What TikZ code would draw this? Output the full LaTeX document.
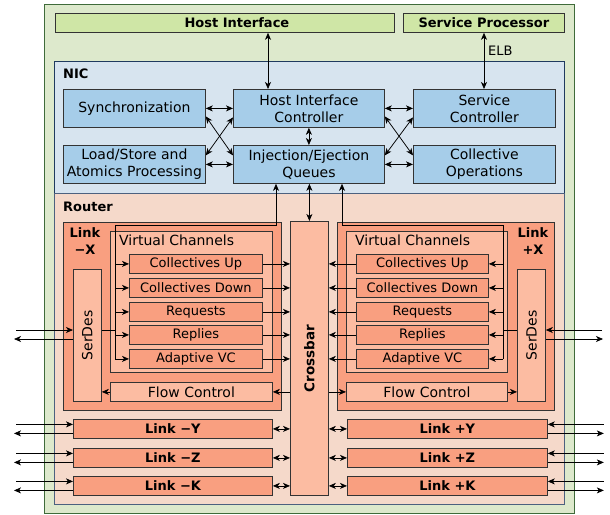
\documentclass[tikz,border=0pt]{standalone}
\usepackage{fontspec}
\setmainfont{DejaVu Sans}
\usetikzlibrary{arrows.meta,calc}
\definecolor{outerfill}{HTML}{DDE9CC}
\definecolor{outerline}{HTML}{3F6B3A}
\definecolor{hostfill}{HTML}{CFE6A6}
\definecolor{nicfill}{HTML}{D7E4EF}
\definecolor{nicline}{HTML}{1F3A5F}
\definecolor{nicbox}{HTML}{A6CDE9}
\definecolor{routerfill}{HTML}{F5D9CA}
\definecolor{salmon}{HTML}{F99F80}
\definecolor{litesalmon}{HTML}{FCBCA2}
\definecolor{boxline}{HTML}{333333}
\begin{document}
\begin{tikzpicture}[x=1pt,y=-1pt,
  box/.style={draw=boxline,line width=0.8pt,inner sep=0pt,anchor=north west,align=center,font=\fontsize{14}{17}\selectfont},
  nicb/.style={box,fill=nicbox},
  linkb/.style={box,fill=salmon},
  liteb/.style={box,fill=litesalmon},
  vcitem/.style={linkb,font=\fontsize{13}{15}\selectfont,minimum height=19pt},
  dirlink/.style={linkb,font=\fontsize{13}{15}\selectfont\bfseries,minimum height=19pt},
  lbl/.style={inner sep=0pt,font=\fontsize{13}{15}\selectfont\bfseries},
  tip/.tip={Stealth[length=7pt,width=6pt,inset=2pt]},
  arr/.style={-tip,line width=0.75pt,black},
  dbl/.style={tip-tip,line width=0.75pt,black},
  ln/.style={line width=0.75pt,black}]
\useasboundingbox (0,0) rectangle (610,514);
% frames
\node[draw=outerline,fill=outerfill,line width=0.8pt,anchor=north west,minimum width=530pt,minimum height=509pt,inner sep=0pt] (outer) at (44,4) {};
\node[box,fill=hostfill,minimum width=339pt,minimum height=19pt,font=\fontsize{13}{15}\selectfont\bfseries] (hostif) at (55,13) {\hspace*{24pt}Host Interface};
\node[box,fill=hostfill,minimum width=161pt,minimum height=19pt,font=\fontsize{13}{15}\selectfont\bfseries] (servproc) at (403,13) {Service Processor};
\node[draw=nicline,fill=nicfill,line width=0.8pt,anchor=north west,minimum width=510pt,minimum height=132pt,inner sep=0pt] (nic) at (54,61) {};
\node[draw=nicline!80,fill=routerfill,line width=0.8pt,anchor=north west,minimum width=510pt,minimum height=311pt,inner sep=0pt] (router) at (54,193) {};
\node[lbl,anchor=west] (niclbl) at (63,74) {NIC};
\node[lbl,anchor=west] (routerlbl) at (63,207) {Router};
% NIC boxes
\node[nicb,minimum width=142pt,minimum height=38pt] (sync) at (63,89) {Synchronization};
\node[nicb,minimum width=151pt,minimum height=38pt] (hic) at (233,89) {Host Interface\\Controller};
\node[nicb,minimum width=142pt,minimum height=38pt] (sc) at (413,89) {Service\\Controller};
\node[nicb,minimum width=142pt,minimum height=38pt] (ls) at (63,145) {Load/Store and\\Atomics Processing};
\node[nicb,minimum width=151pt,minimum height=38pt] (ieq) at (233,145) {Injection/Ejection\\Queues};
\node[nicb,minimum width=142pt,minimum height=38pt] (co) at (413,145) {Collective\\Operations};
% top arrows
\coordinate (hx) at (268,0);
\coordinate (ex) at (484,0);
\draw[dbl] (hostif.south -| hx) -- (hic.north -| hx);
\draw[dbl] (servproc.south -| ex) -- (sc.north -| ex);
\node[anchor=west,inner sep=0pt,font=\fontsize{13}{15}\selectfont] (elb) at (488,51) {ELB};
\draw[dbl] (sync.east) -- (hic.west);
\draw[dbl] (ls.east) -- (ieq.west);
\draw[dbl] ($(sync.east)+(0,8)$) -- ($(ieq.west)+(0,-9)$);
\draw[dbl] ($(ls.east)+(0,-9)$) -- ($(hic.west)+(0,9)$);
\draw[dbl] (hic.east) -- (sc.west);
\draw[dbl] (ieq.east) -- (co.west);
\draw[dbl] ($(hic.east)+(0,8)$) -- ($(co.west)+(0,-9)$);
\draw[dbl] ($(ieq.east)+(0,-9)$) -- ($(sc.west)+(0,9)$);
\draw[dbl] (hic.south) -- (ieq.north);
% Router: crossbar
\node[liteb,minimum width=38pt,minimum height=274pt,label={[rotate=90,font=\fontsize{13.5}{15}\selectfont\bfseries]center:Crossbar}] (xbar) at (290,221) {};
\draw[dbl] (ieq.south -| xbar.north) -- (xbar.north);
% Link -X
\node[linkb,minimum width=218pt,minimum height=188pt] (lxm) at (63,222) {};
\node[lbl,align=center,anchor=north,font=\fontsize{13}{17}\selectfont\bfseries] (lxmlbl) at (85,227) {Link\\−X};
\node[liteb,minimum width=162pt,minimum height=141pt] (vcl) at (110,231) {};
\node[anchor=west,inner sep=0pt,font=\fontsize{14}{17}\selectfont] (vcllbl) at (119,240) {Virtual Channels};
\node[vcitem,minimum width=133pt] (vcL1) at (129,254) {Collectives Up};
\node[vcitem,minimum width=133pt] (vcL2) at (129,278) {Collectives Down};
\node[vcitem,minimum width=133pt] (vcL3) at (129,302) {Requests};
\node[vcitem,minimum width=133pt] (vcL4) at (129,325) {Replies};
\node[vcitem,minimum width=133pt] (vcL5) at (129,349) {Adaptive VC};
\node[liteb,minimum width=28pt,minimum height=132pt,label={[rotate=90,font=\fontsize{14}{17}\selectfont]center:SerDes}] (sdL) at (73,269) {};
\node[liteb,minimum width=162pt,minimum height=19pt] (fcL) at (110,382) {Flow Control};
% Link +X
\node[linkb,minimum width=217pt,minimum height=188pt] (lxp) at (337,222) {};
\node[lbl,align=center,anchor=north,font=\fontsize{13}{17}\selectfont\bfseries] (lxplbl) at (533,227) {Link\\+X};
\node[liteb,minimum width=161pt,minimum height=141pt] (vcr) at (346,231) {};
\node[anchor=west,inner sep=0pt,font=\fontsize{14}{17}\selectfont] (vcrlbl) at (355,240) {Virtual Channels};
\node[vcitem,minimum width=132pt] (vcR1) at (356,254) {Collectives Up};
\node[vcitem,minimum width=132pt] (vcR2) at (356,278) {Collectives Down};
\node[vcitem,minimum width=132pt] (vcR3) at (356,302) {Requests};
\node[vcitem,minimum width=132pt] (vcR4) at (356,325) {Replies};
\node[vcitem,minimum width=132pt] (vcR5) at (356,349) {Adaptive VC};
\node[liteb,minimum width=28pt,minimum height=132pt,label={[rotate=90,font=\fontsize{14}{17}\selectfont]center:SerDes}] (sdR) at (517,269) {};
\node[liteb,minimum width=161pt,minimum height=19pt] (fcR) at (346,382) {Flow Control};
% buses
\coordinate (busL) at (115,225);
\coordinate (lup) at (276,225);
\coordinate (busR) at (503,225);
\coordinate (rup) at (342,225);
\draw[arr] (busL |- vcL5.west) -- (busL) -- (lup) -- (lup |- ieq.south);
\draw[arr] (busR |- vcR5.east) -- (busR) -- (rup) -- (rup |- ieq.south);
\foreach \i in {1,...,5}{
  \draw[arr] (busL |- vcL\i.west) -- (vcL\i.west);
  \draw[arr] (vcL\i.east) -- (xbar.west |- vcL\i.east);
  \draw[arr] (busR |- vcR\i.east) -- (vcR\i.east);
  \draw[arr] (vcR\i.west) -- (xbar.east |- vcR\i.west);
}
\draw[ln] ($(sdL.east)+(0,-5)$) -- ($(sdL.east -| busL)+(0,-5)$);
\draw[ln] ($(sdR.west)+(0,-5)$) -- ($(sdR.west -| busR)+(0,-5)$);
\draw[arr] (xbar.west |- fcL.east) -- (fcL.east);
\draw[arr] (fcL.west) -- (sdL.east |- fcL.west);
\draw[arr] (xbar.east |- fcR.west) -- (fcR.west);
\draw[arr] (fcR.east) -- (sdR.west |- fcR.east);
% external serdes
\coordinate (exLin) at (16,330);
\coordinate (exLout) at (14,339);
\coordinate (exRin) at (602,330);
\coordinate (exRout) at (603,339);
\draw[arr] (exLin) -- (exLin -| sdL.west);
\draw[arr] (exLout -| sdL.west) -- (exLout);
\draw[arr] (exRin) -- (exRin -| sdR.east);
\draw[arr] (exRout -| sdR.east) -- (exRout);
% bottom links
\node[dirlink,minimum width=199pt] (lym) at (73,419) {Link −Y};
\node[dirlink,minimum width=199pt] (lzm) at (73,448) {Link −Z};
\node[dirlink,minimum width=199pt] (lkm) at (73,476) {Link −K};
\node[dirlink,minimum width=200pt] (lyp) at (347,419) {Link +Y};
\node[dirlink,minimum width=200pt] (lzp) at (347,448) {Link +Z};
\node[dirlink,minimum width=200pt] (lkp) at (347,476) {Link +K};
\foreach \n in {lym,lzm,lkm}{
  \draw[dbl] (\n.east) -- (xbar.west |- \n.east);
  \draw[arr] ($(\n.west)+(-57,-4.5)$) -- ($(\n.west)+(0,-4.5)$);
  \draw[arr] ($(\n.west)+(0,4.5)$) -- ($(\n.west)+(-59,4.5)$);
}
\foreach \n in {lyp,lzp,lkp}{
  \draw[dbl] (\n.west) -- (xbar.east |- \n.west);
  \draw[arr] ($(\n.east)+(56,-4.5)$) -- ($(\n.east)+(0,-4.5)$);
  \draw[arr] ($(\n.east)+(0,4.5)$) -- ($(\n.east)+(56,4.5)$);
}
\end{tikzpicture}
\end{document}
